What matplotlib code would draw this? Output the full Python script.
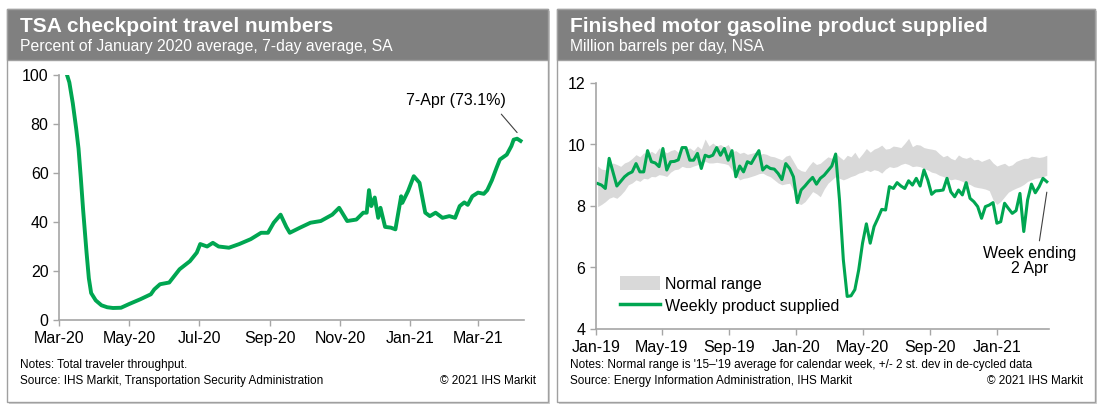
import matplotlib
matplotlib.use("Agg")
import matplotlib.pyplot as plt
import matplotlib.dates as mdates
from matplotlib.patches import Rectangle, Patch
from matplotlib.lines import Line2D
import pandas as pd

plt.rcParams["font.family"] = ["Liberation Sans", "DejaVu Sans"]

W, H = 1102, 411
GREEN = "#00a651"
HEADER = "#808080"
BAND = "#d9d9d9"
SPINE = "#a6a6a6"

# --- TSA checkpoint numbers (% of Jan 2020 avg, 7-day avg) ---
tsa_dates = [
    "2020-03-08", "2020-03-10", "2020-03-13", "2020-03-16", "2020-03-18", "2020-03-20",
    "2020-03-22", "2020-03-25", "2020-03-27", "2020-03-29", "2020-04-02", "2020-04-07",
    "2020-04-12", "2020-04-17", "2020-04-24", "2020-05-01", "2020-05-11", "2020-05-20",
    "2020-05-23", "2020-05-28", "2020-06-05", "2020-06-14", "2020-06-23", "2020-06-29",
    "2020-07-02", "2020-07-08", "2020-07-13", "2020-07-18", "2020-07-27", "2020-08-05",
    "2020-08-15", "2020-08-24", "2020-08-30", "2020-09-04", "2020-09-10", "2020-09-15",
    "2020-09-18", "2020-09-27", "2020-10-06", "2020-10-15", "2020-10-25", "2020-10-31",
    "2020-11-07", "2020-11-15", "2020-11-21", "2020-11-24", "2020-11-26", "2020-11-28",
    "2020-12-01", "2020-12-04", "2020-12-06", "2020-12-10", "2020-12-15", "2020-12-19",
    "2020-12-24", "2020-12-25", "2020-12-30", "2021-01-04", "2021-01-09", "2021-01-14",
    "2021-01-18", "2021-01-23", "2021-01-29", "2021-02-04", "2021-02-09", "2021-02-13",
    "2021-02-17", "2021-02-20", "2021-02-24", "2021-03-01", "2021-03-06", "2021-03-09",
    "2021-03-13", "2021-03-17", "2021-03-20", "2021-03-26", "2021-03-30", "2021-04-01",
    "2021-04-04", "2021-04-07",
]
tsa_values = [
    100, 97, 88.5, 78, 70, 58,
    45, 27.5, 17, 11, 8, 6,
    5.2, 4.9, 5.0, 6.5, 8.5, 10.5,
    12.5, 14.6, 15.3, 20.7, 24, 27.5,
    31, 30, 31.5, 30, 29.5, 31,
    33, 35.6, 35.6, 39.7, 43, 38,
    35.6, 37.7, 39.7, 40.4, 43, 45.8,
    40.4, 41, 43.8, 43.8, 53, 46.5,
    50, 41.7, 45.8, 38, 37.7, 37,
    50.5, 47.8, 52.6, 58.7, 56, 43.8,
    42.4, 43.8, 41.7, 42.4, 41.7, 46.5,
    48, 47, 50.5, 52, 51.5, 53,
    57, 62, 65.5, 67.5, 71, 73.6,
    74, 73.1,
]
tsa_ticks = ["2020-03-01", "2020-05-01", "2020-07-01", "2020-09-01",
             "2020-11-01", "2021-01-01", "2021-03-01"]

# --- Gasoline product supplied (mb/d), weekly from 4 Jan 2019 ---
gas_start = "2019-01-04"
gas_weekly = [
    8.73, 8.68, 8.57, 9.55, 9.10, 8.65, 8.80, 8.95, 9.05, 9.11,
    9.38, 9.11, 9.11, 9.80, 9.44, 9.40, 9.28, 9.87, 9.17, 9.44,
    9.45, 9.50, 9.90, 9.90, 9.49, 9.49, 9.71, 9.22, 9.65, 9.60,
    9.65, 9.90, 9.65, 9.87, 9.49, 9.80, 8.95, 9.30, 9.11, 9.44,
    9.38, 9.60, 9.80, 9.17, 9.30, 9.22, 9.20, 9.06, 8.86, 9.38,
    9.22, 8.95, 8.11, 8.52, 8.65, 8.80, 8.93, 8.71, 8.90, 9.00,
    9.15, 9.30, 9.69, 8.20, 6.25, 5.06, 5.08, 5.28, 5.92, 6.79,
    7.42, 6.79, 7.33, 7.60, 7.89, 7.87, 8.63, 8.57, 8.76, 8.65,
    8.57, 8.82, 8.68, 8.90, 8.65, 9.17, 8.84, 8.38, 8.49, 8.50,
    8.52, 8.90, 8.46, 8.30, 8.52, 8.36, 8.76, 8.25, 8.14, 7.98,
    7.60, 7.98, 8.03, 8.11, 7.44, 7.49, 8.09, 7.92, 7.76, 7.85,
    8.41, 7.17, 8.20, 8.71, 8.43, 8.63, 8.90, 8.79,
]
gas_upper = [
    9.30, 9.20, 9.18, 9.30, 9.40, 9.35, 9.29, 9.40, 9.45, 9.55,
    9.67, 9.60, 9.73, 9.70, 9.78, 9.70, 9.89, 9.80, 9.73, 9.80,
    9.84, 9.75, 9.89, 9.85, 9.89, 9.80, 9.95, 9.85, 10.18, 9.95,
    10.05, 9.95, 10.00, 9.92, 10.00, 9.77, 9.80, 9.71, 9.75, 9.68,
    9.71, 9.75, 9.65, 9.71, 9.68, 9.62, 9.60, 9.55, 9.50, 9.62,
    9.66, 9.45, 9.23, 9.15, 9.12, 9.30, 9.45, 9.35, 9.39, 9.50,
    9.60, 9.55, 9.71, 9.60, 9.50, 9.65, 9.60, 9.75, 9.55, 9.70,
    9.87, 9.75, 9.85, 9.90, 9.98, 9.85, 9.87, 9.95, 9.93, 9.90,
    10.04, 10.20, 9.93, 10.00, 9.98, 9.90, 9.87, 9.85, 9.82, 9.70,
    9.60, 9.65, 9.55, 9.50, 9.66, 9.58, 9.55, 9.60, 9.50, 9.52,
    9.45, 9.50, 9.55, 9.40, 9.30, 9.35, 9.39, 9.30, 9.34, 9.45,
    9.50, 9.55, 9.55, 9.62, 9.60, 9.58, 9.60, 9.65,
]
gas_lower = [
    7.98, 8.05, 8.14, 8.25, 8.30, 8.25, 8.36, 8.50, 8.69, 8.75,
    8.85, 8.80, 8.90, 8.88, 8.96, 8.95, 9.02, 9.00, 8.96, 9.10,
    9.18, 9.20, 9.29, 9.25, 9.25, 9.30, 9.34, 9.38, 9.45, 9.40,
    9.40, 9.42, 9.40, 9.38, 9.34, 9.17, 9.00, 8.85, 8.90, 8.92,
    8.96, 9.00, 9.05, 9.07, 9.00, 8.95, 8.85, 8.75, 8.69, 8.72,
    8.74, 8.50, 8.09, 8.05, 8.14, 8.30, 8.47, 8.40, 8.30, 8.55,
    8.74, 8.85, 8.96, 8.90, 8.85, 8.90, 8.96, 9.00, 9.07, 9.10,
    9.17, 9.12, 9.18, 9.15, 9.07, 9.20, 9.28, 9.25, 9.28, 9.35,
    9.39, 9.35, 9.28, 9.30, 9.28, 9.22, 9.17, 9.10, 9.07, 9.00,
    8.96, 8.90, 8.85, 8.88, 8.85, 8.80, 8.74, 8.70, 8.63, 8.60,
    8.58, 8.55, 8.50, 8.20, 8.05, 8.15, 8.30, 8.45, 8.52, 8.58,
    8.63, 8.70, 8.80, 8.85, 8.90, 8.92, 8.95, 9.00,
]
gas_ticks = ["2019-01-01", "2019-05-01", "2019-09-01", "2020-01-01",
             "2020-05-01", "2020-09-01", "2021-01-01"]


def px_rect(x0, y0, x1, y1):
    """pixel box (top-left origin) -> figure fraction [l, b, w, h]"""
    return [x0 / W, 1 - y1 / H, (x1 - x0) / W, (y1 - y0) / H]


def draw_panel(fig, x0, x1, title, subtitle, note, source):
    y0, y1 = 9, 402
    l, b, w, h = px_rect(x0, y0, x1, y1)
    # light shadow then box
    fig.patches.append(Rectangle(((x0 + 2) / W, b - 2 / H), w, h, transform=fig.transFigure,
                                 facecolor="#d0d0d0", edgecolor="none", zorder=0))
    fig.patches.append(Rectangle((l, b), w, h, transform=fig.transFigure,
                                 facecolor="white", edgecolor="#a0a0a0", lw=1, zorder=0.5))
    hl, hb, hw, hh = px_rect(x0, y0, x1, 60)
    fig.patches.append(Rectangle((hl, hb), hw, hh, transform=fig.transFigure,
                                 facecolor=HEADER, edgecolor="#a0a0a0", lw=1, zorder=1))
    fig.text((x0 + 13) / W, 1 - 26 / H, title, color="white", fontsize=15,
             fontweight="bold", va="center")
    fig.text((x0 + 13) / W, 1 - 47 / H, subtitle, color="white", fontsize=11.3, va="center")
    fig.text((x0 + 13) / W, 1 - 365 / H, note, fontsize=8.5, va="center")
    fig.text((x0 + 13) / W, 1 - 381 / H, source, fontsize=8.5, va="center")
    fig.text((x1 - 12) / W, 1 - 381 / H, "\u00a9 2021 IHS Markit", fontsize=8.5,
             va="center", ha="right")


def style_axes(ax):
    ax.set_zorder(3)
    for side in ["top", "right"]:
        ax.spines[side].set_visible(False)
    for side in ["left", "bottom"]:
        ax.spines[side].set_color(SPINE)
        ax.spines[side].set_linewidth(1.2)
    ax.tick_params(colors=SPINE, labelcolor="black", labelsize=11.5, length=4, width=1)
    ax.tick_params(axis="x", pad=4)
    ax.set_facecolor("none")


fig = plt.figure(figsize=(W / 100, H / 100), dpi=100)

draw_panel(fig, 7, 548, "TSA checkpoint travel numbers",
           "Percent of January 2020 average, 7-day average, SA",
           "Notes: Total traveler throughput.",
           "Source: IHS Markit, Transportation Security Administration")
draw_panel(fig, 557, 1095, "Finished motor gasoline product supplied",
           "Million barrels per day, NSA",
           "Notes: Normal range is '15\u2013'19 average for calendar week, +/- 2 st. dev in de-cycled data",
           "Source: Energy Information Administration, IHS Markit")

# left chart
ax1 = fig.add_axes(px_rect(59, 75, 524, 320))
style_axes(ax1)
ax1.plot(pd.to_datetime(tsa_dates), tsa_values, color=GREEN, lw=2.8, solid_joinstyle="round")
ax1.set_ylim(0, 100)
ax1.set_yticks([0, 20, 40, 60, 80, 100])
ax1.set_xlim(pd.Timestamp("2020-03-01"), pd.Timestamp("2021-04-10"))
ax1.set_xticks(pd.to_datetime(tsa_ticks))
ax1.xaxis.set_major_formatter(mdates.DateFormatter("%b-%y"))
ax1.annotate("7-Apr (73.1%)", xy=(pd.Timestamp("2021-04-04"), 76.5),
             xytext=(pd.Timestamp("2021-02-10"), 89.5), fontsize=11.5, ha="center",
             va="center", arrowprops=dict(arrowstyle="-", color="#404040", lw=0.8,
                                          shrinkA=3, shrinkB=0,
                                          relpos=(0.9, 0.0)))

# right chart
gas_dates = pd.date_range(gas_start, periods=len(gas_weekly), freq="7D")
ax2 = fig.add_axes(px_rect(596, 83, 1049, 329))
style_axes(ax2)
ax2.fill_between(gas_dates, gas_lower, gas_upper, color=BAND, lw=0)
ax2.plot(gas_dates, gas_weekly, color=GREEN, lw=2.2, solid_joinstyle="round")
ax2.set_ylim(4, 12)
ax2.set_yticks([4, 6, 8, 10, 12])
ax2.set_xlim(pd.Timestamp("2019-01-01"), pd.Timestamp("2021-04-06"))
ax2.set_xticks(pd.to_datetime(gas_ticks))
ax2.xaxis.set_major_formatter(mdates.DateFormatter("%b-%y"))
ax2.annotate("Week ending\n2 Apr", xy=(gas_dates[-1], 8.45),
             xytext=(pd.Timestamp("2021-03-01"), 6.2), fontsize=11.5, ha="center",
             va="center", linespacing=1.0,
             arrowprops=dict(arrowstyle="-", color="#404040", lw=0.8,
                             shrinkA=2, shrinkB=0, relpos=(0.6, 1.0)))

handles = [Patch(facecolor=BAND, edgecolor="none", label="Normal range"),
           Line2D([0], [0], color=GREEN, lw=2.5, label="Weekly product supplied")]
ax2.legend(handles=handles, loc="lower left", bbox_to_anchor=(0.053, 0.062), frameon=False,
           fontsize=11.5, handlelength=2.5, handleheight=1.0, handletextpad=0.3,
           labelspacing=0.4, borderaxespad=0, borderpad=0)

fig.savefig("out.png", dpi=100)
